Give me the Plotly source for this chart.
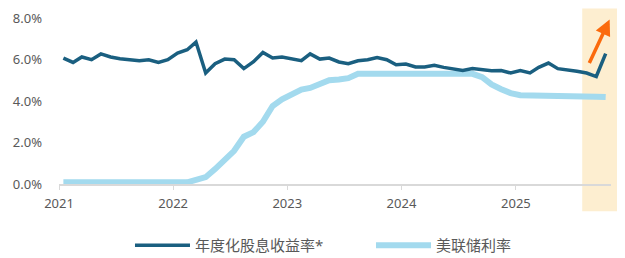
import pandas as pd
import plotly.graph_objects as go

months = pd.date_range("2021-01-01", "2025-10-01", freq="MS") + pd.Timedelta(days=14)

dividend_yield = [
    6.07, 5.86, 6.12, 5.99, 6.27, 6.12, 6.04, 5.99, 5.94, 5.99, 5.86, 5.99,
    6.31, 6.47, 6.84, 5.35, 5.80, 6.02, 5.99, 5.56, 5.89, 6.34, 6.07, 6.12,
    6.02, 5.94, 6.27, 6.02, 6.07, 5.88, 5.80, 5.94, 5.99, 6.10, 5.99, 5.75,
    5.78, 5.64, 5.64, 5.72, 5.62, 5.54, 5.47, 5.56, 5.51, 5.46, 5.47, 5.35,
    5.47, 5.35, 5.62, 5.83, 5.56, 5.51, 5.43, 5.35, 5.18, 6.28,
]
fed_rate = [
    0.08, 0.08, 0.08, 0.08, 0.08, 0.08, 0.08, 0.08, 0.08, 0.08, 0.08, 0.08,
    0.08, 0.08, 0.20, 0.33, 0.72, 1.12, 1.60, 2.28, 2.50, 3.00, 3.76, 4.08,
    4.32, 4.55, 4.63, 4.80, 5.00, 5.04, 5.10, 5.31, 5.31, 5.31, 5.31, 5.31,
    5.31, 5.31, 5.31, 5.31, 5.31, 5.31, 5.31, 5.31, 5.15, 4.80, 4.57, 4.38,
    4.28, 4.28, 4.28, 4.28, 4.28, 4.28, 4.28, 4.28, 4.21, 4.19,
]
series_names = ["年度化股息收益率*", "美联储利率"]
year_ticks = ["2021-01-01", "2022-01-01", "2023-01-01", "2024-01-01", "2025-01-01"]
year_labels = ["2021", "2022", "2023", "2024", "2025"]
y_ticks = [0, 2, 4, 6, 8]
y_labels = ["0.0%", "2.0%", "4.0%", "6.0%", "8.0%"]
x_range = ["2021-01-01", "2025-11-01"]
highlight_start = "2025-08-01"

FONT = "Noto Sans, Noto Sans CJK SC, sans-serif"
GRAY = "#595959"

# highlight band position as a fraction of the x axis
r0, r1 = pd.Timestamp(x_range[0]), pd.Timestamp(x_range[1])
hl_x0 = (pd.Timestamp(highlight_start) - r0) / (r1 - r0)

fig = go.Figure()
fig.add_trace(go.Scatter(x=months, y=fed_rate, mode="lines", name=series_names[1],
                         line=dict(color="#a3daee", width=6)))
fig.add_trace(go.Scatter(x=months, y=dividend_yield, mode="lines", name=series_names[0],
                         line=dict(color="#1a5f80", width=3.5)))

fig.add_shape(type="rect", xref="paper", yref="paper", x0=hl_x0, x1=1.03,
              y0=-0.164, y1=1.057, fillcolor="#fdeed0", line_width=0, layer="below")

fig.add_annotation(xref="paper", yref="paper", x=0.9975, y=0.991, ax=-21, ay=45,
                   showarrow=True, arrowhead=2, arrowsize=0.9, arrowwidth=3.5,
                   arrowcolor="#fb6a0c", text="", standoff=0)

# page body adds an 8px offset, so the figure is 8px smaller on each axis
fig.update_layout(
    width=617, height=250,
    margin=dict(l=51, r=14, t=10, b=74, autoexpand=False),
    paper_bgcolor="white", plot_bgcolor="rgba(0,0,0,0)",
    font=dict(family=FONT, color=GRAY, size=13),
    showlegend=True,
    legend=dict(orientation="h", x=0.1286, xanchor="left", y=-0.37, yanchor="middle",
                font=dict(size=15, color=GRAY), traceorder="reversed", itemwidth=55,
                entrywidth=171, bgcolor="rgba(0,0,0,0)"),
    xaxis=dict(range=x_range, tickvals=year_ticks, ticktext=year_labels, automargin=False,
               showgrid=False, zeroline=False, showline=True, linecolor="#d9d9d9", linewidth=2,
               ticks="outside", ticklen=4, tickcolor="#d9d9d9", tickwidth=1,
               ticklabelstandoff=2, tickfont=dict(size=13, color=GRAY)),
    yaxis=dict(range=[0, 8], tickvals=y_ticks, ticktext=y_labels, automargin=False,
               showgrid=False, zeroline=False, showline=False, ticklabelstandoff=16,
               tickfont=dict(size=13, color=GRAY)),
)

fig.write_html("out.html")
